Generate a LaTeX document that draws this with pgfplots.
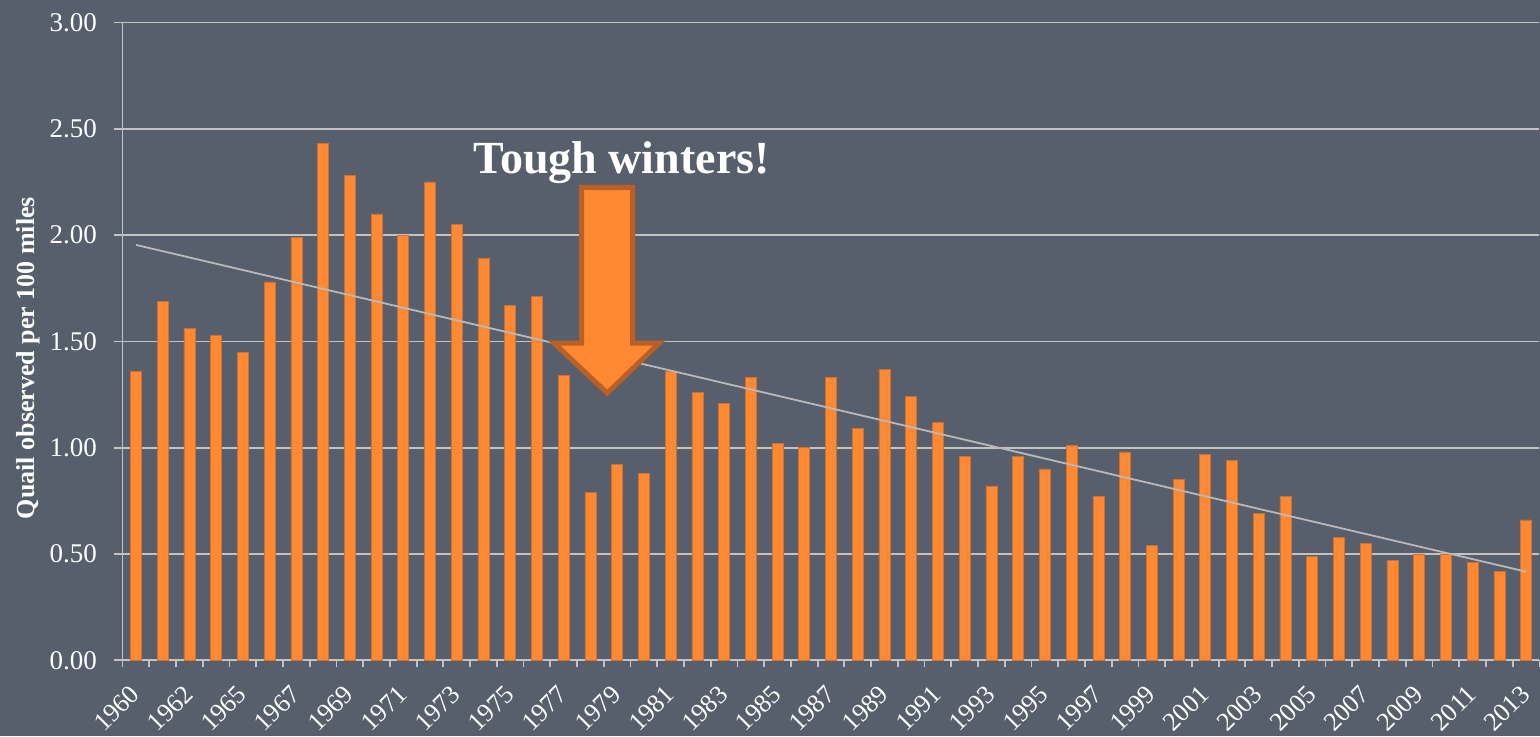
\documentclass[border=0pt]{standalone}
\usepackage{pgfplots}
\usepackage{pgfplotstable}
\pgfplotsset{compat=1.18}
\usepackage{fontspec}
\setmainfont{Liberation Serif}
\definecolor{bg}{RGB}{87,95,109}
\definecolor{barc}{RGB}{255,136,51}
\definecolor{barline}{RGB}{205,112,50}
\definecolor{arrline}{RGB}{187,96,36}
\definecolor{gridc}{RGB}{195,195,195}
\definecolor{trend}{RGB}{185,185,185}

\pgfplotstableread{
idx val
0 1.36
1 1.69
2 1.56
3 1.53
4 1.45
5 1.78
6 1.99
7 2.43
8 2.28
9 2.10
10 2.00
11 2.25
12 2.05
13 1.89
14 1.67
15 1.71
16 1.34
17 0.79
18 0.92
19 0.88
20 1.36
21 1.26
22 1.21
23 1.33
24 1.02
25 1.00
26 1.33
27 1.09
28 1.37
29 1.24
30 1.12
31 0.96
32 0.82
33 0.96
34 0.90
35 1.01
36 0.77
37 0.98
38 0.54
39 0.85
40 0.97
41 0.94
42 0.69
43 0.77
44 0.49
45 0.58
46 0.55
47 0.47
48 0.50
49 0.50
50 0.46
51 0.42
52 0.66
}\quail

\pgfplotstableread{
idx val
0 1.954
52 0.417
}\trendline

\begin{document}
\begin{tikzpicture}
\path[use as bounding box, fill=bg] (-61.3pt,-37.85pt) rectangle (708.7pt,330.15pt);
\begin{axis}[
  at={(0,0)}, anchor=south west,
  scale only axis, width=708.4pt, height=318.9pt,
  xmin=-0.5, xmax=52.5, ymin=0, ymax=3,
  ybar, bar width=5.5pt,
  axis x line=bottom, axis y line=left,
  axis line style={draw=gridc, line width=0.9pt, -},
  xtick={0,2,...,52},
  xticklabels={1960,1962,1965,1967,1969,1971,1973,1975,1977,1979,1981,1983,1985,1987,1989,1991,1993,1995,1997,1999,2001,2003,2005,2007,2009,2011,2013},
  minor xtick={-0.5,0.5,...,52.5},
  major x tick style={draw=none},
  minor x tick style={draw=gridc, line width=0.9pt},
  minor tick length=3.5pt,
  major tick length=4.3pt,
  tick align=outside,
  ytick={0,0.5,...,3},
  major y tick style={draw=gridc, line width=0.9pt},
  ymajorgrids,
  major grid style={draw=gridc, line width=0.9pt},
  /pgf/number format/assume math mode=true,
  yticklabel style={/pgf/number format/.cd, fixed, fixed zerofill, precision=2, /tikz/.cd,
    font=\fontsize{13.5}{13.5}\selectfont, text=white, xshift=-5pt},
  xticklabel style={xshift=-3.5pt, yshift=-2.5pt, rotate=45, anchor=north east,
    font=\fontsize{13}{13}\selectfont, text=white},
  ylabel={Quail observed per 100 miles},
  ylabel style={at={(axis description cs:-0.0668,0.474)}, rotate=0, anchor=center,
    font=\bfseries\fontsize{13}{13}\selectfont, text=white},
  clip=false,
]
\addplot[fill=barc, draw=barline, line width=0.3pt] table[x=idx, y=val] {\quail};
\addplot[sharp plot, draw=trend, line width=0.9pt, mark=none] table[x=idx, y=val] {\trendline};
\draw[fill=barc, draw=arrline, line width=2.5pt, line join=miter]
  (axis cs:16.67,2.224) -- (axis cs:18.58,2.224) -- (axis cs:18.58,1.492)
  -- (axis cs:19.57,1.492) -- (axis cs:17.63,1.257) -- (axis cs:15.64,1.492)
  -- (axis cs:16.67,1.492) -- cycle;
\node[text=white, font=\bfseries\fontsize{23}{23}\selectfont, anchor=base, inner sep=0pt]
  at (axis cs:18.17,2.292) {Tough winters!};
\end{axis}
\end{tikzpicture}
\end{document}
